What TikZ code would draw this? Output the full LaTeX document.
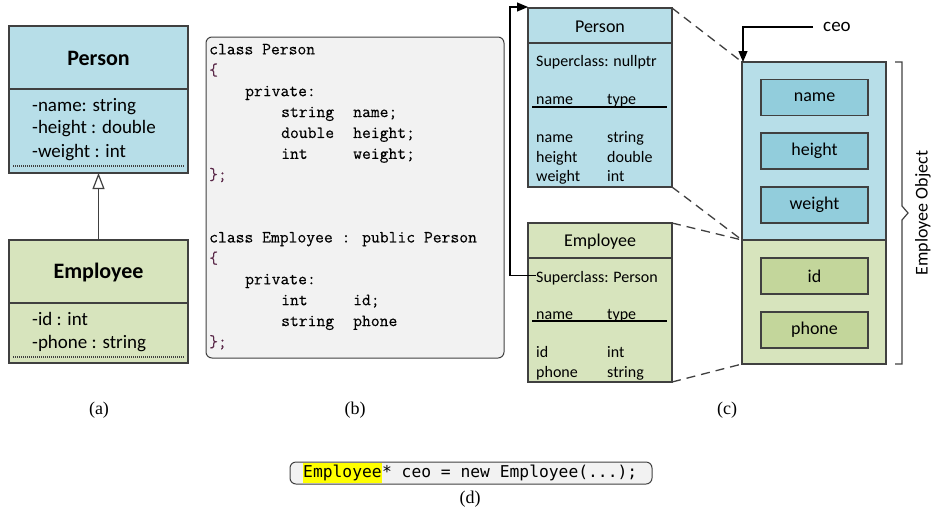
\documentclass[tikz,border=0pt]{standalone}
\usepackage{fontspec}
\setmainfont{Carlito}
\newfontfamily\capfont{Liberation Serif}
\newfontfamily\dmono{DejaVu Sans Mono}
\newfontfamily\codefont[FakeBold=0.25]{Latin Modern Mono}
\usetikzlibrary{positioning,arrows.meta}

\definecolor{boxline}{HTML}{404040}
\definecolor{pblue}{HTML}{B7DEE8}
\definecolor{pbluedark}{HTML}{92CDDC}
\definecolor{egreen}{HTML}{D7E4BD}
\definecolor{egreendark}{HTML}{C3D69B}
\definecolor{codebg}{HTML}{F2F2F2}
\definecolor{codebrace}{HTML}{5A2848}
\definecolor{hlyellow}{HTML}{FFFF00}

\def\fs#1{\fontsize{#1}{#1}\selectfont}

\tikzset{
  box/.style={draw=boxline, line width=1.4pt, inner sep=0pt, outer sep=0pt, anchor=north west},
  field/.style={draw=boxline, line width=1.2pt, inner sep=0pt, outer sep=0pt,
    minimum width=107pt, minimum height=36pt, font=\fs{18}},
  txt/.style={inner sep=0pt, anchor=mid west, yshift=-3pt},
  code/.style={inner sep=0pt, anchor=mid west, yshift=-3pt, font=\codefont\fs{17.14}},
  codebox/.style={draw=boxline, line width=1pt, fill=codebg, rounded corners=6pt,
    inner sep=0pt, outer sep=0pt, anchor=north west},
  sublabel/.style={inner sep=0pt, font=\capfont\fs{18}},
  dashy/.style={draw=boxline, line width=1.3pt, dash pattern=on 9pt off 6pt},
  pointer/.style={draw=black, line width=1.1pt, -{Triangle[length=11pt,width=9pt]}},
}

\begin{document}
\begin{tikzpicture}[x=1pt, y=-1pt]
  \useasboundingbox (0,0) rectangle (941,520);

  % (a) class diagram
  \node[box, fill=pblue, minimum width=179pt, minimum height=147pt] (pUML) at (9,26) {};
  \node[box, fill=egreen, minimum width=179pt, minimum height=123pt] (eUML) at (9,240) {};
  \draw[boxline, line width=1.4pt] (9,89) -- (188,89);
  \draw[boxline, line width=1.4pt] (9,303) -- (188,303);
  \draw[boxline, line width=1.5pt, dash pattern=on 1pt off 1pt] (13,166) -- (184,166);
  \draw[boxline, line width=1.5pt, dash pattern=on 1pt off 1pt] (13,357) -- (184,357);
  \node[inner sep=0pt, font=\bfseries\fs{22}] (pUMLname) at (98.5,58) {Person};
  \node[inner sep=0pt, font=\bfseries\fs{22}] (eUMLname) at (98.5,273) {Employee};
  \foreach \attr/\yc in {-name: string/106, -height : double/128, -weight : int/152}
    \node[txt, font=\fs{19}] at (32,\yc) {\attr};
  \foreach \attr/\yc in {-id : int/320, -phone : string/343}
    \node[txt, font=\fs{19}] at (32,\yc) {\attr};
  \draw[boxline, line width=1.2pt, -{Triangle[open, length=16pt, width=12pt, fill=white]}]
    (eUML.north) -- (pUML.south);

  % (b) source code
  \node[codebox, minimum width=298pt, minimum height=321pt] (srcbox) at (206,37) {};
  \foreach \row/\col/\codetxt in {0/0/class Person, 1/0/\textcolor{codebrace}{\{}, 2/4/private:,
      3/8/string, 3/16/name;, 4/8/double, 4/16/height;, 5/8/int, 5/16/weight;,
      6/0/\textcolor{codebrace}{\};},
      9/0/class Employee : public Person, 10/0/\textcolor{codebrace}{\{}, 11/4/private:,
      12/8/int, 12/16/id;, 13/8/string, 13/16/phone, 14/0/\textcolor{codebrace}{\};}}
    \node[code] (code-\row-\col) at (209+9*\col, 49+20.9*\row) {\codetxt};

  % (c) class tables
  \node[box, fill=pblue, minimum width=144pt, minimum height=179pt] (pT) at (528,8) {};
  \node[box, fill=egreen, minimum width=144pt, minimum height=159pt] (eT) at (528,223) {};
  \draw[boxline, line width=1.4pt] (528,43) -- (672,43);
  \draw[boxline, line width=1.4pt] (528,258) -- (672,258);
  \node[inner sep=0pt, font=\fs{18}] (pTname) at (600,27) {Person};
  \node[inner sep=0pt, font=\fs{18}] (eTname) at (600,242) {Employee};
  \node[txt, font=\fs{16}] (supP) at (536,61) {Superclass: nullptr};
  \node[txt, font=\fs{16}] (supE) at (536,277) {Superclass: Person};
  \foreach \yc/\nm/\ty in {99/name/type, 137/name/string, 157/height/double, 176/weight/int,
      314/name/type, 352/id/int, 372/phone/string} {
    \node[txt, font=\fs{16}] (nm-\yc) at (536,\yc) {\nm};
    \node[txt, font=\fs{16}] (ty-\yc) at (607,\yc) {\ty};
  }
  \draw[black, line width=1.2pt] (532,107) -- (667,107);
  \draw[black, line width=1.2pt] (532,321) -- (667,321);
  \draw[pointer] ([yshift=3pt]supE.west) -| ([xshift=-18pt,yshift=1pt]pT.north west)
    -- ([yshift=1pt]pT.north west);

  % (c) object layout
  \node[box, fill=pblue, minimum width=144pt, minimum height=178pt] (objT) at (742,62) {};
  \node[box, fill=egreen, minimum width=144pt, minimum height=124pt] (objB) at (742,240) {};
  \foreach \fld/\yc in {name/97.5, height/151, weight/205}
    \node[field, fill=pbluedark] (f-\fld) at (814.5,\yc) {\fld};
  \foreach \fld/\yc in {id/276, phone/330}
    \node[field, fill=egreendark] (f-\fld) at (814.5,\yc) {\fld};
  \draw[dashy] (pT.north east) -- (objT.north west);
  \draw[dashy] (pT.south east) -- (objT.south west);
  \draw[dashy] (eT.north east) -- (objT.south west);
  \draw[dashy] (eT.south east) -- (objB.south west);
  \node[inner sep=0pt, anchor=west, font=\fs{19}] (ceo) at (823,27) {ceo};
  \draw[pointer] ([xshift=-10pt]ceo.west) -| ([xshift=1pt]objT.north west);
  \draw[boxline, line width=1.2pt] (895,62) -- (902,62) -- (902,206) -- (908,213)
    -- (902,220) -- (902,364) -- (895,364);
  \node[inner sep=0pt, rotate=90, font=\fs{18}] (objlabel) at (923,213) {Employee Object};

  % (d) allocation
  \node[codebox, minimum width=362pt, minimum height=22pt] (newbox) at (290,462) {};
  \node[fill=hlyellow, inner sep=0pt, minimum height=20pt, anchor=west, font=\dmono\fs{16.3}]
    (hl) at (303,473) {Employee};
  \node[inner sep=0pt, anchor=base west, font=\dmono\fs{16.3}] (newrest) at (hl.base east)
    {* ceo = new Employee(...);};

  \node[sublabel] (lab-a) at (99,410) {(a)};
  \node[sublabel] (lab-b) at (355,410) {(b)};
  \node[sublabel] (lab-c) at (727,410) {(c)};
  \node[sublabel] (lab-d) at (470,499) {(d)};
\end{tikzpicture}
\end{document}
